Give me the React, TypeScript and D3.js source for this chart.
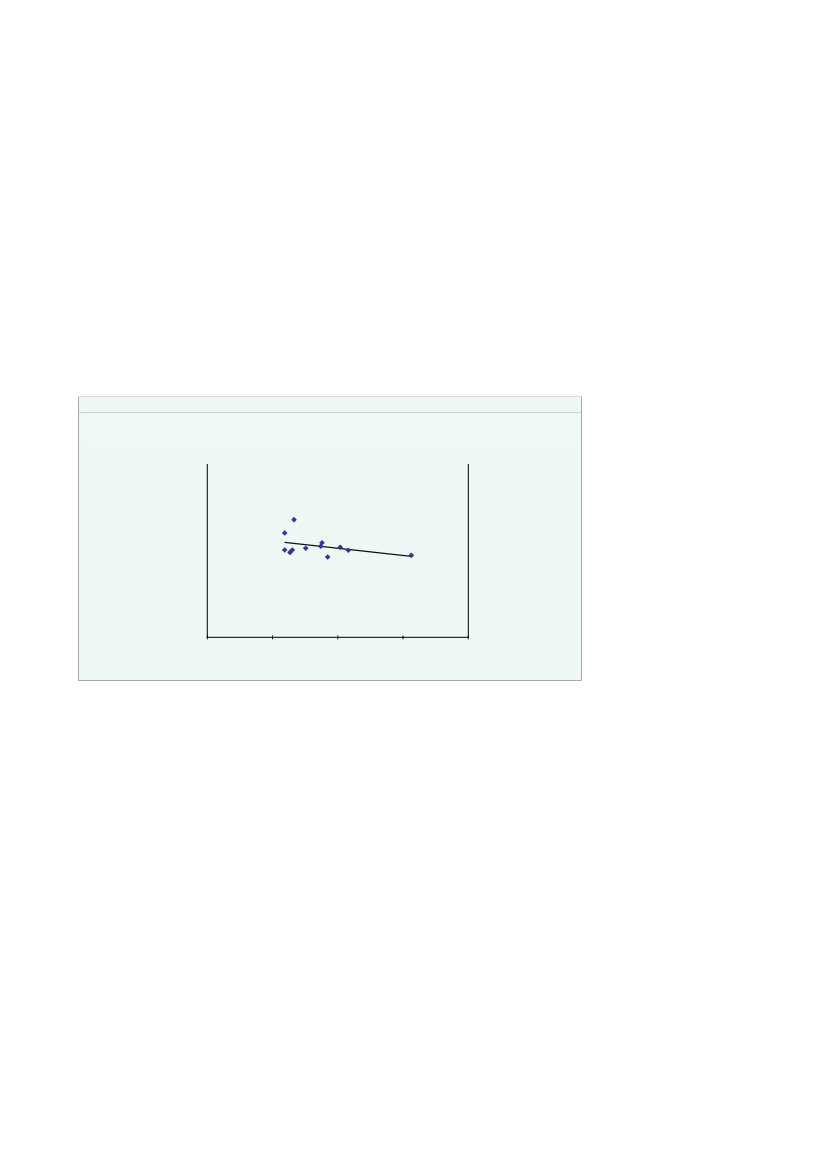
import { useEffect, useRef } from 'react';
import * as d3 from 'd3';

// scatter points (axis units: x 0..4, y 0..10)
const pointX = [1.329, 1.186, 1.186, 1.267, 1.303, 1.508, 1.738, 1.758, 1.845, 2.038, 2.161, 3.126];
const pointY = [6.79, 6.02, 5.04, 4.9, 5.04, 5.14, 5.25, 5.46, 4.63, 5.19, 5.02, 4.73];

// trend line ends
const trendX = [1.186, 3.126];
const trendY = [5.48, 4.67];

const xTicks = [0, 1, 2, 3, 4];

export default function App() {
  const svgRef = useRef<SVGSVGElement>(null);

  useEffect(() => {
    if (!svgRef.current) return;
    const svg = d3.select(svgRef.current);
    svg.selectAll('*').remove();

    // chart area panel
    const panel = { left: 78.5, top: 396.5, right: 581.5, bottom: 680.5 };
    const pw = panel.right - panel.left;

    svg
      .append('rect')
      .attr('x', panel.left)
      .attr('y', panel.top)
      .attr('width', pw)
      .attr('height', panel.bottom - panel.top)
      .attr('fill', '#eff8f5');

    // faint lighter band near the top
    svg
      .append('rect')
      .attr('x', panel.left + 8)
      .attr('y', 413)
      .attr('width', pw - 8)
      .attr('height', 28)
      .attr('fill', '#f2faf7');

    svg
      .append('line')
      .attr('x1', panel.left)
      .attr('x2', panel.right)
      .attr('y1', 412.5)
      .attr('y2', 412.5)
      .attr('stroke', '#cfd3d2');

    // border: light top, darker left / right / bottom
    svg
      .append('line')
      .attr('x1', panel.left)
      .attr('x2', panel.right)
      .attr('y1', panel.top)
      .attr('y2', panel.top)
      .attr('stroke', '#dcdcdc');
    svg
      .append('path')
      .attr('d', `M${panel.left},${panel.top}V${panel.bottom}H${panel.right}V${panel.top}`)
      .attr('fill', 'none')
      .attr('stroke', '#a8a8a8');

    const x = d3.scaleLinear().domain([0, 4]).range([207.3, 468.3]);
    const y = d3.scaleLinear().domain([0, 10]).range([637.3, 464]);

    const g = svg.append('g');

    // vertical axis lines on both sides
    [0, 4].forEach((v) => {
      g.append('line')
        .attr('x1', x(v))
        .attr('x2', x(v))
        .attr('y1', y(10))
        .attr('y2', y(0))
        .attr('stroke', '#000')
        .attr('stroke-width', 1);
    });

    g.append('line')
      .attr('x1', x(0))
      .attr('x2', x(4))
      .attr('y1', y(0))
      .attr('y2', y(0))
      .attr('stroke', '#000')
      .attr('stroke-width', 1);

    g.selectAll('.tick')
      .data(xTicks)
      .join('line')
      .attr('x1', (d) => x(d))
      .attr('x2', (d) => x(d))
      .attr('y1', y(0) - 1.8)
      .attr('y2', y(0) + 2)
      .attr('stroke', '#000')
      .attr('stroke-width', 1);

    // trend line
    const line = d3
      .line<number>()
      .x((d) => x(d))
      .y((_, i) => y(trendY[i]));
    g.append('path')
      .attr('d', line(trendX))
      .attr('fill', 'none')
      .attr('stroke', '#111')
      .attr('stroke-width', 1.3);

    // diamond markers
    const diamond = d3.symbol().type(d3.symbolDiamond2).size(20);
    g.selectAll('.pt')
      .data(pointX)
      .join('path')
      .attr('transform', (d, i) => `translate(${x(d)},${y(pointY[i])})`)
      .attr('d', diamond())
      .attr('fill', '#333399');
  }, []);

  return (
    <svg
      ref={svgRef}
      width={827}
      height={1169}
      style={{ position: 'absolute', left: 0, top: 0, display: 'block' }}
    />
  );
}
